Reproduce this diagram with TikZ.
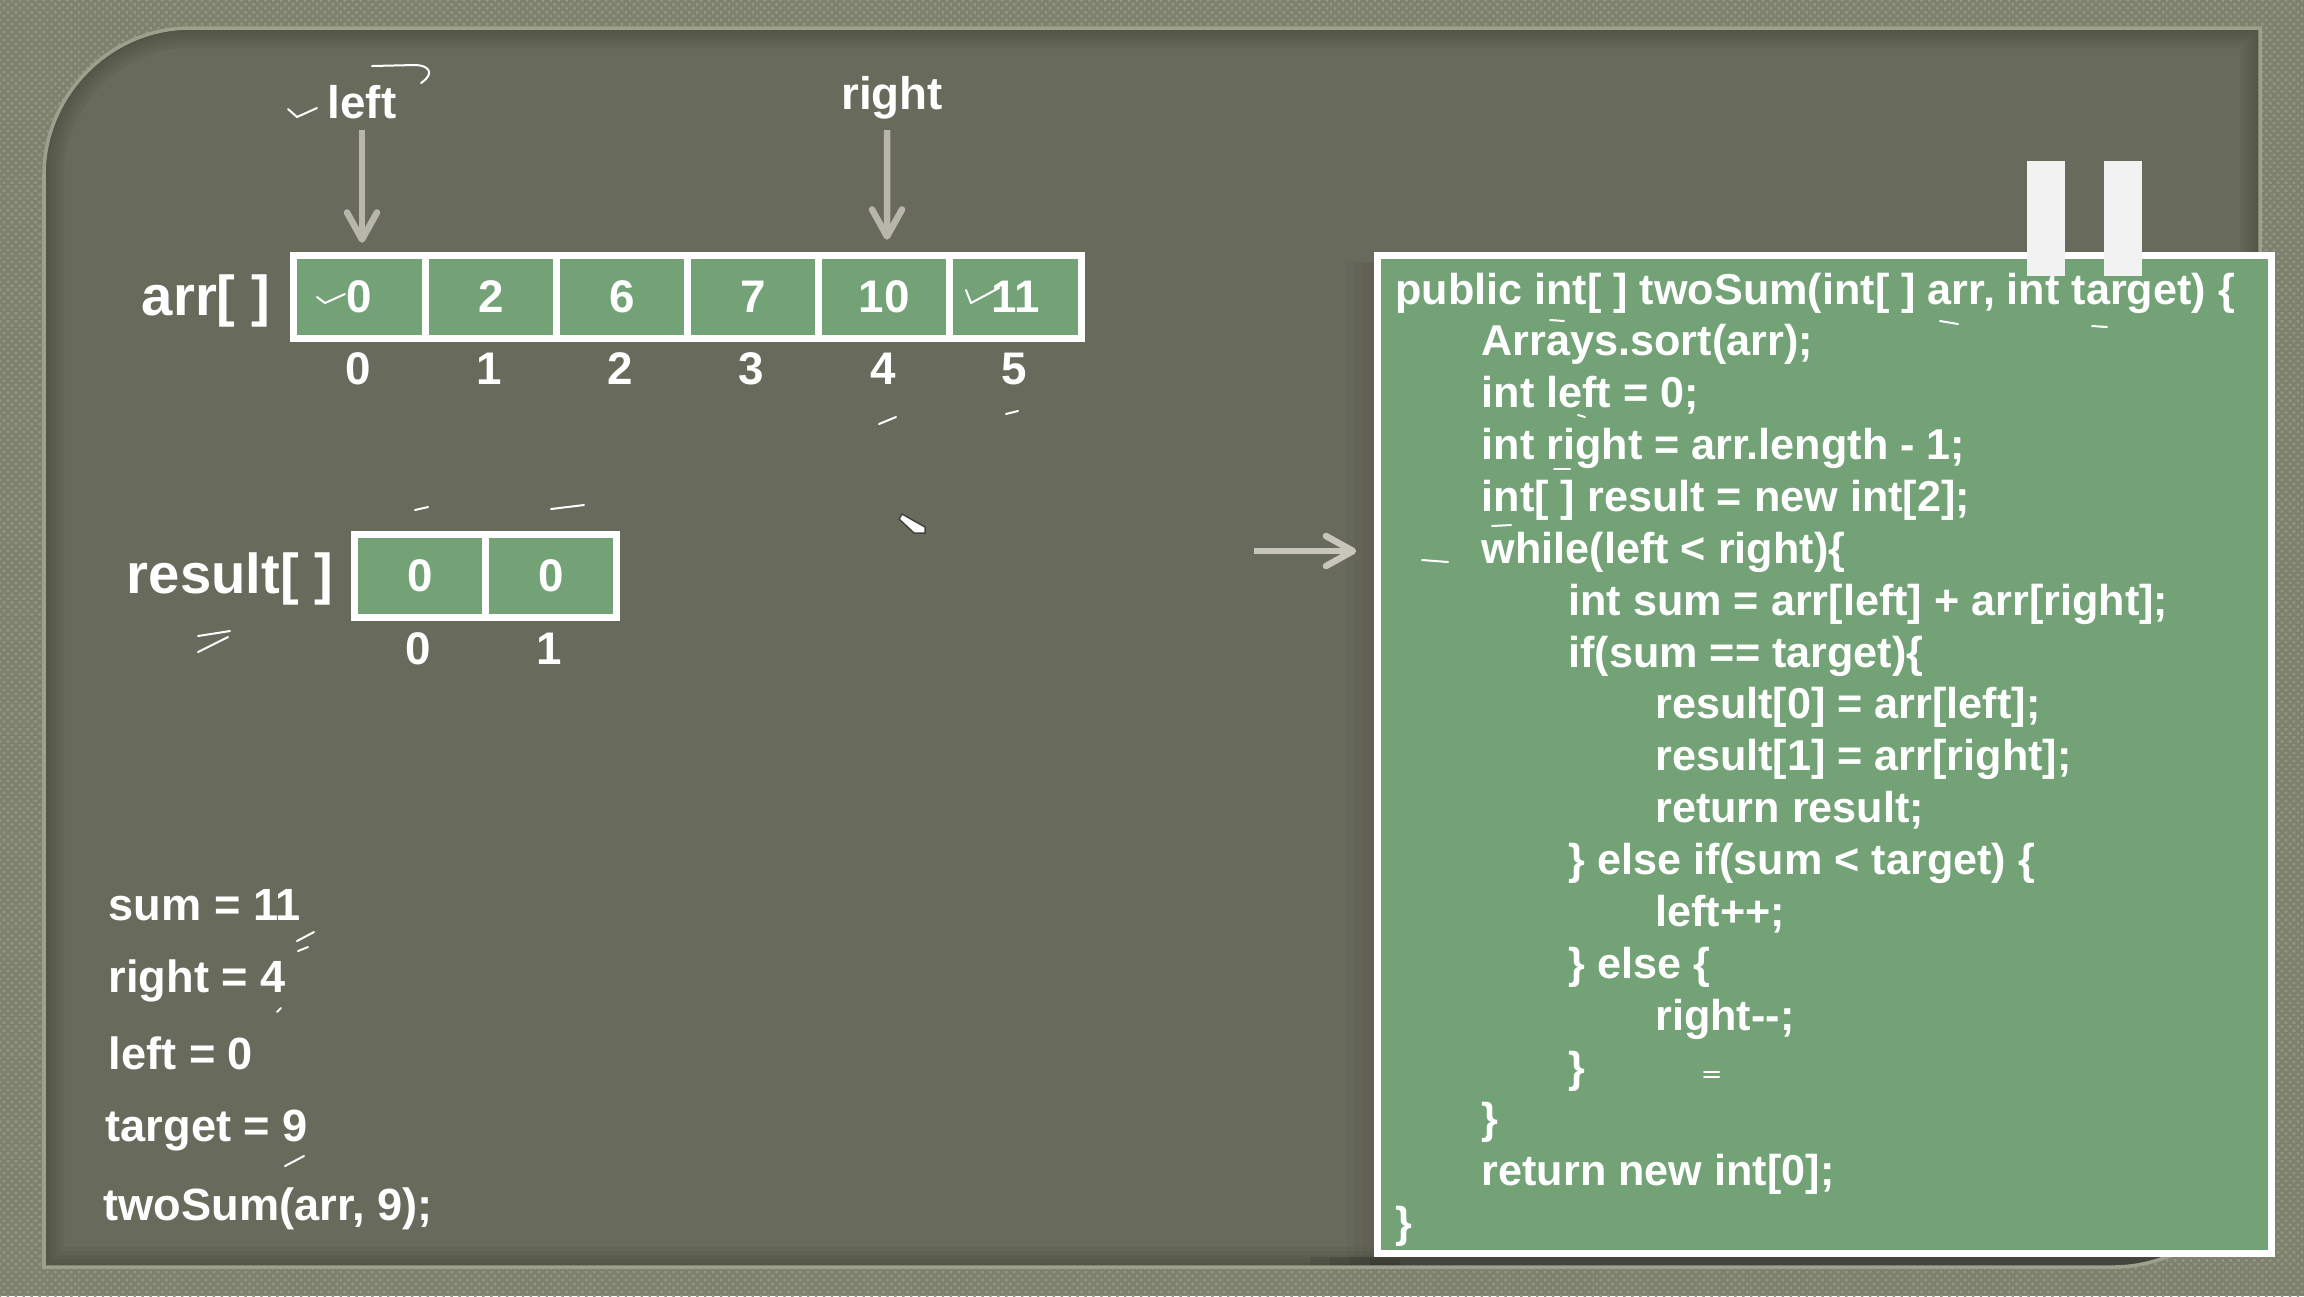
\documentclass[tikz,border=0pt]{standalone}
\usepackage{fontspec}
\setmainfont{Liberation Sans}
\usetikzlibrary{arrows.meta}
\usetikzlibrary{patterns.meta}
\definecolor{frameback}{RGB}{126, 129, 110}
\definecolor{framedot}{RGB}{148, 151, 130}
\definecolor{frameedge}{RGB}{156, 160, 140}
\definecolor{slate}{RGB}{104, 106, 91}
\definecolor{slatedark}{RGB}{68, 69, 60}
\definecolor{cellgreen}{RGB}{114, 162, 118}
\definecolor{pointer}{RGB}{184, 182, 170}
\definecolor{pointerlight}{RGB}{200, 198, 186}
\tikzset{
  cellbox/.style={draw=white, fill=cellgreen, line width=0.07cm, minimum width=1.312cm, minimum height=0.825cm,
                  inner sep=0pt, outer sep=0pt, text=white, font=\fontsize{13}{15}\selectfont\bfseries},
  indexlabel/.style={inner sep=0pt, text=white, font=\fontsize{13}{15}\selectfont\bfseries},
  arraylabel/.style={inner sep=0pt, text=white, font=\fontsize{16}{18}\selectfont\bfseries},
  varlabel/.style={inner sep=0pt, anchor=base west, text=white, font=\fontsize{12.85}{15}\selectfont\bfseries},
  ptrarrow/.style={draw=pointer, line width=0.065cm, -{Straight Barb[length=0.27cm, width=0.3cm, round]}},
  chalkmark/.style={draw=white, line width=0.02cm, line cap=round, line join=round},
  codetext/.style={inner sep=0pt, anchor=north west, align=left, text=white,
                   font=\fontsize{12.28}{14.75}\selectfont\bfseries}
}
\newcommand{\panelpath}{(44,1267) -- (44,175) .. controls (44,95) and (110,28) .. (190,28) -- (2260,28) -- (2260,1120)
       .. controls (2260,1200) and (2195,1267) .. (2113,1267) -- cycle}
\newcommand{\tabone}{\hspace*{0.865cm}}
\newcommand{\tabtwo}{\hspace*{1.73cm}}
\newcommand{\tabthree}{\hspace*{2.6cm}}
\begin{document}
\begin{tikzpicture}[x=0.01cm, y=-0.01cm]
  \useasboundingbox (0,0) rectangle (2304,1296);
  \fill[frameback] (0,0) rectangle (2304,1296);
  \fill[pattern={Dots[distance=0.056cm, radius=0.017cm, angle=45]}, pattern color=framedot] (0,0) rectangle (2304,1296);
  % rounded slate panel, darker along its edge
  \fill[slate] \panelpath;
  \begin{scope}
    \clip \panelpath;
    \foreach \w in {0.08,0.16,0.24,0.32,0.4}
      \draw[black, opacity=0.04, line width=\w cm] \panelpath;
    \foreach \s in {1310,1330,1350,1370}
      \fill[black, opacity=0.08] (\s,1257) rectangle (1400,1267);
    \fill[slatedark] (1400,1257) rectangle (2260,1267);
    \foreach \s in {1346,1354,1362,1370}
      \fill[black, opacity=0.02] (\s,262) rectangle (1376,1257);
  \end{scope}
  \draw[frameedge, line width=0.035cm] \panelpath;

  % array on top
  \foreach \v [count=\i from 0] in {0,2,6,7,10,11}{
    \node[cellbox] (arrcell\i) at (359.6+131.2*\i,297) {\v};
    \node[indexlabel] (arrindex\i) at (358+131.2*\i,369) {\i};
  }
  \node[arraylabel] (arrlabel) at (206,301) {arr[ ]};
  \node[indexlabel] (leftlabel) at (362,102) {left};
  \node[indexlabel] (rightlabel) at (892,98) {right};
  \draw[ptrarrow, shorten <=0.1cm, shorten >=0.13cm] (leftlabel.south) -- (leftlabel.south |- arrcell0.north);
  \draw[ptrarrow, shorten <=0.1cm, shorten >=0.16cm] ([xshift=-0.05cm]rightlabel.south) -- ([xshift=0.026cm]arrcell4.north);

  % result array
  \foreach \v [count=\i from 0] in {0,0}{
    \node[cellbox] (rescell\i) at (420+131.2*\i,576) {\v};
    \node[indexlabel] (resindex\i) at (418+131*\i,649) {\i};
  }
  \node[arraylabel] (reslabel) at (230,579) {result[ ]};

  % variables
  \node[varlabel] (varsum)    at (108,920)  {sum = 11};
  \node[varlabel] (varright)  at (108,992)  {right = 4};
  \node[varlabel] (varleft)   at (108,1069) {left = 0};
  \node[varlabel] (vartarget) at (105,1141) {target = 9};
  \node[varlabel] (varcall)   at (103,1220) {twoSum(arr, 9);};

  % code panel
  \node[cellbox, minimum width=8.94cm, minimum height=9.98cm] (codebox) at (1824.5,754.5) {};
  \node[codetext] (code) at (1394.5,272) {%
    public int[ ] twoSum(int[ ] arr, int target) \{\\
    \tabone Arrays.sort(arr);\\
    \tabone int left = 0;\\
    \tabone int right = arr.length - 1;\\
    \tabone int[ ] result = new int[2];\\
    \tabone while(left < right)\{\\
    \tabtwo int sum = arr[left] + arr[right];\\
    \tabtwo if(sum == target)\{\\
    \tabthree result[0] = arr[left];\\
    \tabthree result[1] = arr[right];\\
    \tabthree return result;\\
    \tabtwo \} else if(sum < target) \{\\
    \tabthree left++;\\
    \tabtwo \} else \{\\
    \tabthree right-{}-;\\
    \tabtwo \}\\
    \tabone \}\\
    \tabone return new int[0];\\
    \}};
  \coordinate (linestart) at (1254,551);
  \draw[ptrarrow, draw=pointerlight, shorten >=0.21cm] (linestart) -- (linestart -| codebox.west);

  % pause bars
  \fill[white!95!black] (2027,161) rectangle (2065,276);
  \fill[white!95!black] (2104,161) rectangle (2142,276);

  % chalk marks
  \draw[chalkmark] (288,109) -- (297,117) -- (317,108);
  \draw[chalkmark] (372,66) -- (415,65) .. controls (428,65) and (436,73) .. (421,83);
  \draw[chalkmark] (317,297) -- (325,303) -- (345,294);
  \draw[chalkmark] (966,290) -- (971,303) -- (999,288);
  \foreach \ax/\ay/\bx/\by in {879/424/896/417, 1006/414/1018/411, 415/510/428/507, 551/509/584/505,
      198/636/230/631, 198/652/228/637, 1550/320/1564/321, 1940/321/1958/324, 2092/326/2107/327,
      1578/415/1585/417, 1554/469/1570/469, 1492/526/1511/525, 1422/560/1448/562, 1704/1072/1719/1072,
      1704/1077/1719/1077, 297/941/314/932, 298/951/308/947, 277/1012/281/1008, 285/1166/304/1156}
    \draw[chalkmark] (\ax,\ay) -- (\bx,\by);

  % eraser
  \filldraw[draw=slatedark, line width=0.015cm, fill=white]
       (902,514) -- (925,527) -- (925,533) -- (914,533) -- (899,519) -- cycle;
\end{tikzpicture}
\end{document}
